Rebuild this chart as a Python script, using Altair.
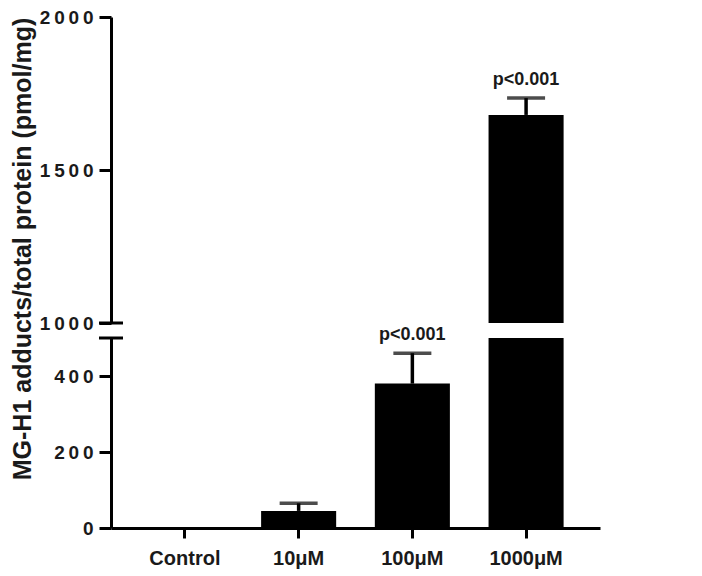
import altair as alt
import pandas as pd

categories = ["Control", "10μM", "100μM", "1000μM"]
means = [0, 45, 380, 1680]
errors = [0, 20, 80, 55]
p_labels = ["", "", "p<0.001", "p<0.001"]
lower_ticks = [0, 200, 400]
upper_ticks = [1000, 1500, 2000]
y_title = "MG-H1 adducts/total protein (pmol/mg)"

df = pd.DataFrame({"cat": categories, "mean": means, "err": errors, "p": p_labels})
df["top"] = df["mean"] + df["err"]
df["zero"] = 0
one = pd.DataFrame({"k": [0]})

FONT = "Liberation Sans"
TXT = "#1a1a1a"
W = 489
H_UP = 306
H_LO = 190

xscale = alt.Scale(domain=categories, paddingInner=0.34, paddingOuter=0.32)
label_expr = "join(split(toString(datum.value), ''), '\u2009')"


def panel(h, domain, ticks, show_x, lower):
    yaxis = alt.Axis(values=ticks, title=None, labelExpr=label_expr, tickSize=12,
                     labelPadding=6, labelFontSize=19)
    if show_x:
        xenc = alt.X("cat:N", scale=xscale, sort=categories,
                     axis=alt.Axis(title=None, labelAngle=0, tickSize=10, labelPadding=10,
                                   labelFontSize=20))
    else:
        xenc = alt.X("cat:N", scale=xscale, sort=categories, axis=None)
    yscale = alt.Scale(domain=domain, zero=False, nice=False)
    base = alt.Chart(df)
    bars = base.mark_bar(color="black", clip=True).encode(
        x=xenc,
        y=alt.Y("mean:Q", scale=yscale, axis=yaxis),
        y2="zero:Q",
    )
    ebase = base.transform_filter("datum.err > 0")
    rules = ebase.mark_rule(color="black", strokeWidth=3.5, clip=True).encode(
        x=alt.X("cat:N", scale=xscale, sort=categories),
        y=alt.Y("mean:Q", scale=yscale),
        y2="top:Q",
    )
    caps = ebase.mark_tick(color="black", size=38, thickness=3.5, clip=True).encode(
        x=alt.X("cat:N", scale=xscale, sort=categories),
        y=alt.Y("top:Q", scale=yscale),
    )
    if lower:
        pf = f"datum.p != '' && datum.top < {domain[1]}"
    else:
        pf = f"datum.p != '' && datum.top >= {domain[0]}"
    ptext = base.transform_filter(pf).mark_text(
        font=FONT, fontWeight="bold", fontSize=18, color=TXT, baseline="bottom", dy=-9
    ).encode(
        x=alt.X("cat:N", scale=xscale, sort=categories),
        y=alt.Y("top:Q", scale=yscale),
        text="p:N",
    )
    brk = alt.Chart(one).mark_rule(color="black", strokeWidth=3).encode(
        x=alt.value(-12), x2=alt.value(12), y=alt.value(0 if lower else h)
    )
    layers = [bars, rules, caps, ptext, brk]
    if not lower:
        title = alt.Chart(one).mark_text(
            font=FONT, fontWeight="bold", fontSize=25, color=TXT, angle=270,
        ).encode(x=alt.value(-88), y=alt.value(232), text=alt.value(y_title))
        layers.append(title)
    return alt.layer(*layers).properties(width=W, height=h)


upper = panel(H_UP, [1000, 2000], upper_ticks, False, False)
lower = panel(H_LO, [0, 500], lower_ticks, True, True)

chart = alt.vconcat(upper, lower, spacing=15, bounds="flush").properties(
    padding={"left": 2, "top": 0, "right": 5, "bottom": 4}
).configure_view(stroke=None).configure_axis(
    grid=False,
    domainColor="black",
    domainWidth=3,
    tickColor="black",
    tickWidth=3,
    labelFont=FONT,
    labelFontWeight="bold",
    labelColor=TXT,
)

chart.save("out.html", embed_options={"renderer": "svg", "actions": False})
